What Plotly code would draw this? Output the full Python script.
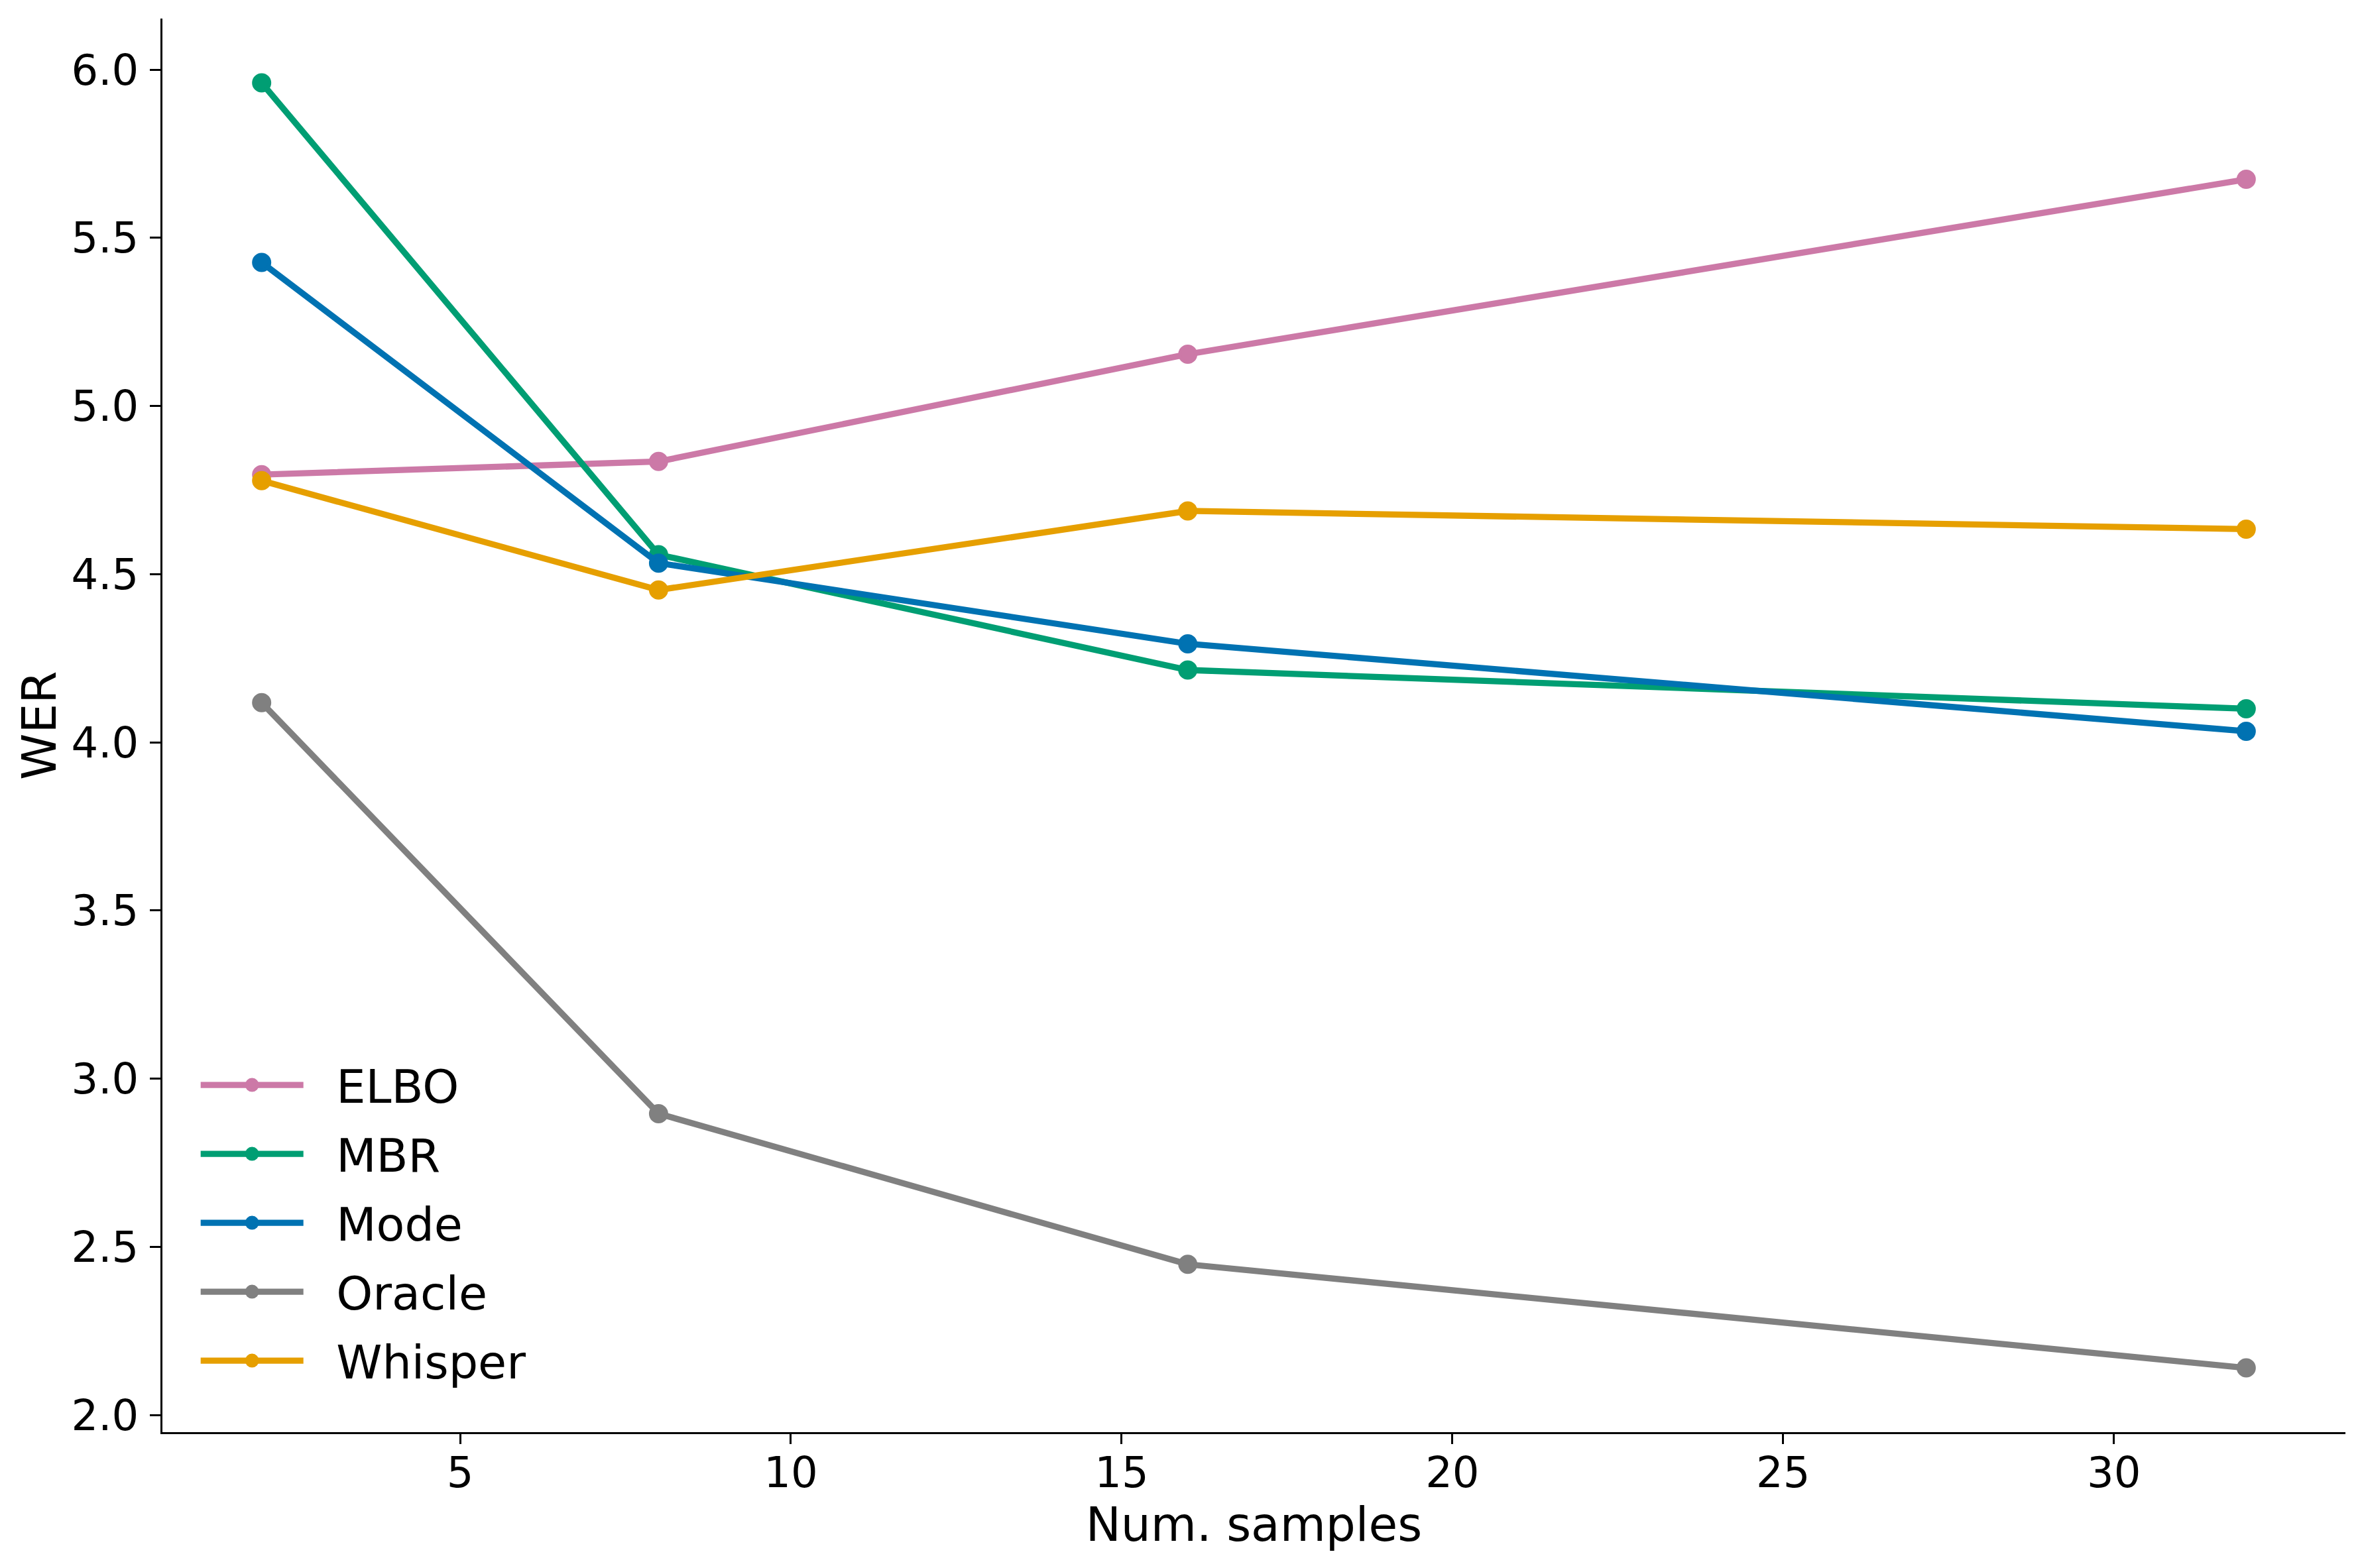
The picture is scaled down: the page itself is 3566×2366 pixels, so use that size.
import plotly.graph_objects as go

num_samples = [2, 8, 16, 32]
series_names = ["ELBO", "MBR", "Mode", "Oracle", "Whisper"]
elbo = [4.796, 4.835, 5.154, 5.674]
mbr = [5.961, 4.558, 4.215, 4.100]
mode = [5.427, 4.533, 4.293, 4.033]
oracle = [4.118, 2.896, 2.448, 2.140]
whisper = [4.778, 4.453, 4.688, 4.634]
series_values = [elbo, mbr, mode, oracle, whisper]
colors = ["#CC79A7", "#009E73", "#0072B2", "#808080", "#E69F00"]
x_ticks = [5, 10, 15, 20, 25, 30]
y_ticks = [2.0, 2.5, 3.0, 3.5, 4.0, 4.5, 5.0, 5.5, 6.0]

FONT = "DejaVu Sans"
BODY = 8  # default page margin of the html body
W, H = 3566 - BODY, 2366 - BODY
ML, MR, MT, MB = 245 - BODY, 28, 28 - BODY, 205

fig = go.Figure()
for name, vals, col in zip(series_names, series_values, colors):
    fig.add_trace(go.Scatter(
        x=num_samples, y=vals, name="\u00a0\u00a0" + name, legendgroup=name,
        mode="lines+markers",
        line=dict(color=col, width=9.3),
        marker=dict(color=col, size=24, line=dict(color=col, width=5)),
    ))

axis_common = dict(
    showgrid=False, zeroline=False, showline=True, linecolor="black", linewidth=3,
    ticks="outside", tickwidth=3, tickcolor="black",
    tickfont=dict(family=FONT, size=64, color="black"),
    mirror=False,
)

fig.update_layout(
    width=W, height=H,
    margin=dict(l=ML, r=MR, t=MT, b=MB, pad=0),
    paper_bgcolor="white", plot_bgcolor="white",
    font=dict(family=FONT, color="black"),
    xaxis=dict(range=[0.5, 33.5], tickvals=x_ticks, ticklen=15, ticklabelstandoff=-12,
               title=dict(text="Num. samples", font=dict(family=FONT, size=71), standoff=0),
               **axis_common),
    yaxis=dict(range=[1.949, 6.152], tickvals=y_ticks, tickformat=".1f",
               ticklen=16, ticklabelstandoff=4,
               title=dict(text="WER", font=dict(family=FONT, size=71), standoff=0),
               **axis_common),
    legend=dict(x=0.016, y=0.270, xanchor="left", yanchor="top",
                font=dict(family=FONT, size=70, color="black"),
                bgcolor="rgba(0,0,0,0)", borderwidth=0,
                tracegroupgap=10, itemwidth=155, itemsizing="trace"),
    showlegend=True,
)

fig.write_html("out.html")
